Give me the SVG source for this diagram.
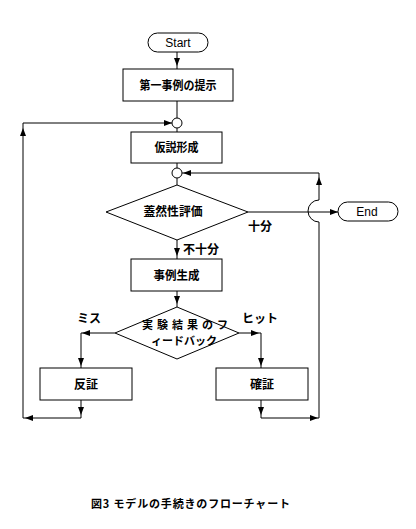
<svg xmlns="http://www.w3.org/2000/svg" xmlns:xlink="http://www.w3.org/1999/xlink" width="416" height="529" viewBox="0 0 416 529">
<style>
.sh{fill:#fff;stroke:#000;stroke-width:1}
.ln{fill:none;stroke:#000;stroke-width:1}
.jp{font-family:"Noto Sans CJK JP","Noto Sans",sans-serif;font-weight:bold;font-size:12px;fill:#000}
.dm{font-size:11px}
.en{font-family:"Liberation Sans",Arial,sans-serif;font-size:12px;fill:#000}
</style>
<defs>
<path id="ah" d="M0,0 L-8,-3 L-8,3 Z" fill="#000"/>
</defs>
<rect width="416" height="529" fill="#fff"/>
<g id="connectors">
<path class="ln" d="M177,52 V69"/>
<path class="ln" d="M177,101 V118"/>
<path class="ln" d="M177,128 V132"/>
<path class="ln" d="M172,123 H23 V418 H81 V400"/>
<path class="ln" d="M177,163 V168"/>
<path class="ln" d="M177,178 V185"/>
<path class="ln" d="M182,173 H319 V200 A11,11 0 0 0 319,222 V418 H261 V400"/>
<path class="ln" d="M248,212 H338"/>
<path class="ln" d="M177,240 V259"/>
<path class="ln" d="M177,291 V307"/>
<path class="ln" d="M115,333 H81 V368"/>
<path class="ln" d="M239,333 H261 V368"/>
<use xlink:href="#ah" transform="translate(177,66) rotate(90)"/>
<use xlink:href="#ah" transform="translate(23,128) rotate(-90)"/>
<use xlink:href="#ah" transform="translate(172,123)"/>
<use xlink:href="#ah" transform="translate(183,173) rotate(180)"/>
<use xlink:href="#ah" transform="translate(319,177) rotate(-90)"/>
<use xlink:href="#ah" transform="translate(338,212)"/>
<use xlink:href="#ah" transform="translate(177,256) rotate(90)"/>
<use xlink:href="#ah" transform="translate(177,304) rotate(90)"/>
<use xlink:href="#ah" transform="translate(82,333) rotate(180)"/>
<use xlink:href="#ah" transform="translate(81,366) rotate(90)"/>
<use xlink:href="#ah" transform="translate(259,333)"/>
<use xlink:href="#ah" transform="translate(261,366) rotate(90)"/>
<use xlink:href="#ah" transform="translate(81,415) rotate(90)"/>
<use xlink:href="#ah" transform="translate(261,415) rotate(90)"/>
<use xlink:href="#ah" transform="translate(25,418) rotate(180)"/>
<use xlink:href="#ah" transform="translate(318,418)"/>
<text class="jp" x="248" y="231">十分</text>
<text class="jp" x="183" y="254">不十分</text>
<text class="jp" x="77" y="323">ミス</text>
<text class="jp" x="242" y="323">ヒット</text>
</g>
<g id="start">
<rect class="sh" x="148" y="33" width="60" height="19" rx="9.5"/>
<text class="en" x="178" y="47" text-anchor="middle">Start</text>
</g>
<g id="present">
<rect class="sh" x="123" y="69" width="110" height="32"/>
<text class="jp" x="178" y="89.5" text-anchor="middle" textLength="77" lengthAdjust="spacingAndGlyphs">第一事例の提示</text>
</g>
<g id="j1"><circle class="sh" cx="177" cy="123" r="5"/></g>
<g id="hypo">
<rect class="sh" x="131" y="132" width="91" height="31"/>
<text class="jp" x="176.5" y="152" text-anchor="middle" textLength="44" lengthAdjust="spacingAndGlyphs">仮説形成</text>
</g>
<g id="j2"><circle class="sh" cx="177" cy="173" r="5"/></g>
<g id="eval">
<path class="sh" d="M106,212 L177,185 L248,212 L177,240 Z"/>
<text class="jp" x="173" y="216" text-anchor="middle" textLength="59" lengthAdjust="spacingAndGlyphs">蓋然性評価</text>
</g>
<g id="end">
<rect class="sh" x="338" y="202" width="60" height="19" rx="9.5"/>
<text class="en" x="367" y="216" text-anchor="middle">End</text>
</g>
<g id="gen">
<rect class="sh" x="131" y="259" width="91" height="32"/>
<text class="jp" x="176.5" y="279.5" text-anchor="middle" textLength="46" lengthAdjust="spacingAndGlyphs">事例生成</text>
</g>
<g id="feedback">
<path class="sh" d="M115,333 L177,307 L239,333 L177,359 Z"/>
<text class="jp dm" x="142" y="328.5" textLength="86" lengthAdjust="spacing">実験結果のフ</text>
<text class="jp dm" x="151" y="345" textLength="66" lengthAdjust="spacing">ィードバック</text>
</g>
<g id="refute">
<rect class="sh" x="40" y="368" width="92" height="32"/>
<text class="jp" x="86" y="388.5" text-anchor="middle">反証</text>
</g>
<g id="confirm">
<rect class="sh" x="216" y="368" width="92" height="32"/>
<text class="jp" x="262" y="388.5" text-anchor="middle">確証</text>
</g>
<g id="caption">
<text class="jp" x="91" y="508" style="font-size:11px" textLength="199" lengthAdjust="spacing">図3 モデルの手続きのフローチャート</text>
</g>
</svg>
